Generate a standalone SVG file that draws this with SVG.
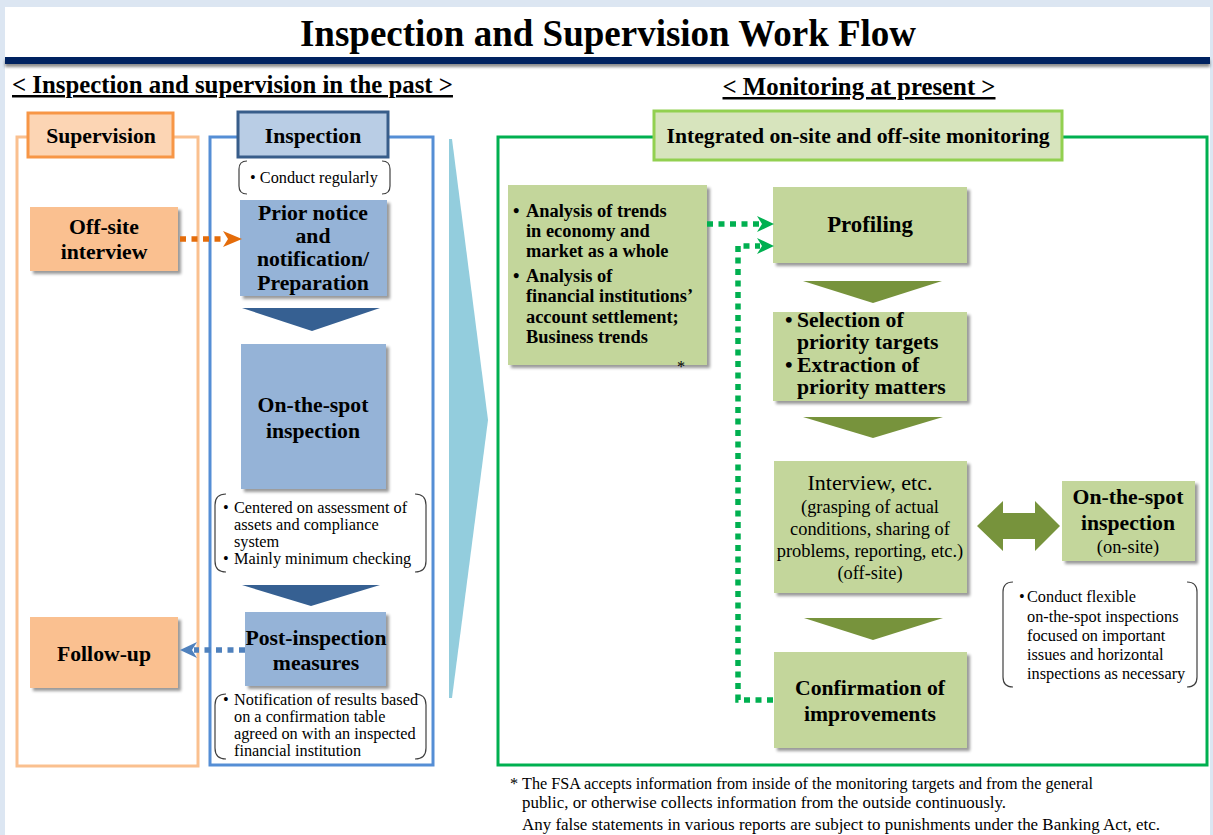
<svg xmlns="http://www.w3.org/2000/svg" width="1213" height="835" viewBox="0 0 1213 835">
<defs>
<filter id="sh" x="-10%" y="-10%" width="130%" height="130%">
<feDropShadow dx="3" dy="3" stdDeviation="1.6" flood-color="#000" flood-opacity="0.4"/>
</filter>
<filter id="bsh" x="-5%" y="-50%" width="110%" height="250%">
<feDropShadow dx="0" dy="3" stdDeviation="1.5" flood-color="#000" flood-opacity="0.45"/>
</filter>
</defs>
<style>
text{font-family:"Liberation Serif","Times New Roman",serif;fill:#000}
.b{font-weight:bold}
.c{text-anchor:middle}
.h20{font-size:21.7px;font-weight:bold}
.r15{font-size:16.3px}
.r17{font-size:18.4px}
.brk{fill:none;stroke:#404040;stroke-width:1.2}
.dsh{fill:none;stroke-width:5.5;stroke-dasharray:6 5.5}
.chevB{fill:#366092}
.chevG{fill:#77933c}
.boxB{fill:#95b3d7;filter:url(#sh)}
.boxG{fill:#c3d69b;filter:url(#sh)}
.boxO{fill:#fac090;filter:url(#sh)}
</style>
<rect x="0" y="0" width="1213" height="835" fill="#dce6f2"/>
<rect x="5" y="7" width="1205" height="828" fill="#ffffff"/>
<g id="title">
<text x="608" y="46" class="b c" style="font-size:37px">Inspection and Supervision Work Flow</text>
<rect x="5" y="57" width="1205" height="7" fill="#002060" filter="url(#bsh)"/>
</g>
<g id="subtitles">
<text x="12" y="93" class="b" style="font-size:24.8px;text-decoration:underline">&lt; Inspection and supervision in the past &gt;</text>
<text x="859" y="95" class="b c" style="font-size:24.8px;text-decoration:underline">&lt; Monitoring at present &gt;</text>
</g>
<g id="wedge">
<polygon points="449,139 452,139 488,420 452,698 449,698" fill="#93cddd"/>
</g>
<g id="supervision-panel">
<rect x="17" y="137" width="181" height="629" fill="none" stroke="#fac08f" stroke-width="3"/>
<rect x="28" y="113" width="145" height="44" fill="#fcd5b4" stroke="#f79646" stroke-width="3"/>
<text x="101" y="143" class="h20 c">Supervision</text>
</g>
<g id="inspection-panel">
<rect x="210" y="137" width="223" height="628" fill="none" stroke="#558ed5" stroke-width="3"/>
<rect x="238" y="112" width="150" height="45" fill="#b9cde5" stroke="#385d8a" stroke-width="3"/>
<text x="313" y="143" class="h20 c">Inspection</text>
</g>
<g id="monitoring-panel">
<rect x="498" y="137" width="709" height="628" fill="none" stroke="#00b050" stroke-width="3"/>
<rect x="654" y="111" width="408" height="49" fill="#d7e4bd" stroke="#92d050" stroke-width="3"/>
<text x="858" y="143" class="h20 c">Integrated on-site and off-site monitoring</text>
</g>
<g id="off-site-interview">
<rect x="30" y="207" width="148" height="64" class="boxO"/>
<text x="104" y="234" class="h20 c">Off-site</text>
<text x="104" y="259" class="h20 c">interview</text>
</g>
<g id="follow-up">
<rect x="30" y="617" width="148" height="71" class="boxO"/>
<text x="104" y="661" class="h20 c">Follow-up</text>
</g>
<g id="note-conduct-regularly">
<path class="brk" d="M247,161 Q239,161 239,169 V186 Q239,194 247,194 M382,161 Q390,161 390,169 V186 Q390,194 382,194"/>
<text x="250" y="183" class="r15">• Conduct regularly</text>
</g>
<g id="prior-notice">
<rect x="240" y="200" width="147" height="96" class="boxB"/>
<text x="313" y="220" class="h20 c">Prior notice</text>
<text x="313" y="243" class="h20 c">and</text>
<text x="313" y="266" class="h20 c">notification/</text>
<text x="313" y="290" class="h20 c">Preparation</text>
</g>
<polygon id="chev-b1" class="chevB" points="242,308 380,308 312,331"/>
<g id="on-the-spot-past">
<rect x="241" y="344" width="145" height="145" class="boxB"/>
<text x="313" y="412" class="h20 c">On-the-spot</text>
<text x="313" y="438" class="h20 c">inspection</text>
</g>
<g id="note-centered">
<path class="brk" d="M226,494 Q215,494 215,505 V561 Q215,572 226,572 M415,494 Q426,494 426,505 V561 Q426,572 415,572"/>
<text x="223" y="513" class="r15">•</text>
<text x="234" y="513" class="r15">Centered on assessment of</text>
<text x="234" y="530" class="r15">assets and compliance</text>
<text x="234" y="547" class="r15">system</text>
<text x="223" y="564" class="r15">•</text>
<text x="234" y="564" class="r15">Mainly minimum checking</text>
</g>
<polygon id="chev-b2" class="chevB" points="242,585 380,585 311,606"/>
<g id="post-inspection">
<rect x="245" y="612" width="141" height="74" class="boxB"/>
<text x="316" y="645" class="h20 c">Post-inspection</text>
<text x="316" y="670" class="h20 c">measures</text>
</g>
<g id="note-notification">
<path class="brk" d="M226,694 Q215,694 215,705 V748 Q215,759 226,759 M415,694 Q426,694 426,705 V748 Q426,759 415,759"/>
<text x="223" y="705" class="r15">•</text>
<text x="234" y="705" class="r15">Notification of results based</text>
<text x="234" y="722" class="r15">on a confirmation table</text>
<text x="234" y="739" class="r15">agreed on with an inspected</text>
<text x="234" y="756" class="r15">financial institution</text>
</g>
<g id="analysis">
<rect x="508" y="185" width="199" height="180" class="boxG"/>
<g class="b" style="font-size:18.4px">
<text x="513" y="217">•</text>
<text x="526" y="217">Analysis of trends</text>
<text x="526" y="237">in economy and</text>
<text x="526" y="257">market as a whole</text>
<text x="513" y="282">•</text>
<text x="526" y="282">Analysis of</text>
<text x="526" y="302">financial institutions’</text>
<text x="526" y="323">account settlement;</text>
<text x="526" y="343">Business trends</text>
</g>
<text x="677" y="372" class="r15">*</text>
</g>
<g id="profiling">
<rect x="773" y="187" width="194" height="76" class="boxG"/>
<text x="870" y="232" class="c b" style="font-size:22.8px">Profiling</text>
</g>
<polygon id="chev-g1" class="chevG" points="803,281 942,281 873,303"/>
<g id="selection">
<rect x="773" y="312" width="194" height="89" class="boxG"/>
<text x="785" y="327" class="h20">•</text>
<text x="797" y="327" class="h20">Selection of</text>
<text x="797" y="349" class="h20">priority targets</text>
<text x="785" y="372" class="h20">•</text>
<text x="797" y="372" class="h20">Extraction of</text>
<text x="797" y="394" class="h20">priority matters</text>
</g>
<polygon id="chev-g2" class="chevG" points="803,417 943,417 873,438"/>
<g id="interview">
<rect x="774" y="461" width="193" height="132" class="boxG"/>
<text x="870" y="490" class="c" style="font-size:22px">Interview, etc.</text>
<text x="870" y="513" class="c r17">(grasping of actual</text>
<text x="870" y="535" class="c r17">conditions, sharing of</text>
<text x="870" y="557" class="c r17">problems, reporting, etc.)</text>
<text x="870" y="579" class="c r17">(off-site)</text>
</g>
<polygon id="double-arrow" fill="#77933c" points="977,526 1003,501 1003,513 1035,513 1035,501 1060,526 1035,551 1035,539 1003,539 1003,551"/>
<g id="on-the-spot-present">
<rect x="1062" y="481" width="133" height="80" class="boxG"/>
<text x="1128" y="504" class="h20 c">On-the-spot</text>
<text x="1128" y="530" class="h20 c">inspection</text>
<text x="1128" y="553" class="c r17">(on-site)</text>
</g>
<g id="note-flexible">
<path class="brk" d="M1013,582 Q1003,582 1003,592 V677 Q1003,687 1013,687 M1187,582 Q1197,582 1197,592 V677 Q1197,687 1187,687"/>
<text x="1019" y="602" class="r15">•</text>
<text x="1027" y="602" class="r15">Conduct flexible</text>
<text x="1027" y="622" class="r15">on-the-spot inspections</text>
<text x="1027" y="641" class="r15">focused on important</text>
<text x="1027" y="660" class="r15">issues and horizontal</text>
<text x="1027" y="679" class="r15">inspections as necessary</text>
</g>
<polygon id="chev-g3" class="chevG" points="804,618 943,618 873,640"/>
<g id="confirmation">
<rect x="774" y="652" width="193" height="96" class="boxG"/>
<text x="870" y="695" class="h20 c">Confirmation of</text>
<text x="870" y="721" class="h20 c">improvements</text>
</g>
<g id="connectors">
<path class="dsh" stroke="#e46c0a" d="M180,239 H226"/>
<polygon fill="#e46c0a" points="223,231 242,239 223,247 228,239"/>
<path class="dsh" stroke="#4f81bd" d="M245,650 H194"/>
<polygon fill="#4f81bd" points="197,642 180,650 197,658 192,650"/>
<path class="dsh" stroke="#00b050" d="M707,224 H760"/>
<polygon fill="#00b050" points="757,216 774,224 757,232 762,224"/>
<path class="dsh" stroke="#00b050" d="M773,700 H738 V246 H760"/>
<polygon fill="#00b050" points="757,238 774,246 757,254 762,246"/>
</g>
<g id="footnote" style="font-size:16.3px">
<text x="510" y="789">*</text>
<text x="522" y="789" textLength="571" lengthAdjust="spacingAndGlyphs">The FSA accepts information from inside of the monitoring targets and from the general</text>
<text x="522" y="808" textLength="484" lengthAdjust="spacingAndGlyphs">public, or otherwise collects information from the outside continuously.</text>
<text x="522" y="830" textLength="638" lengthAdjust="spacingAndGlyphs">Any false statements in various reports are subject to punishments under the Banking Act, etc.</text>
</g>
</svg>
